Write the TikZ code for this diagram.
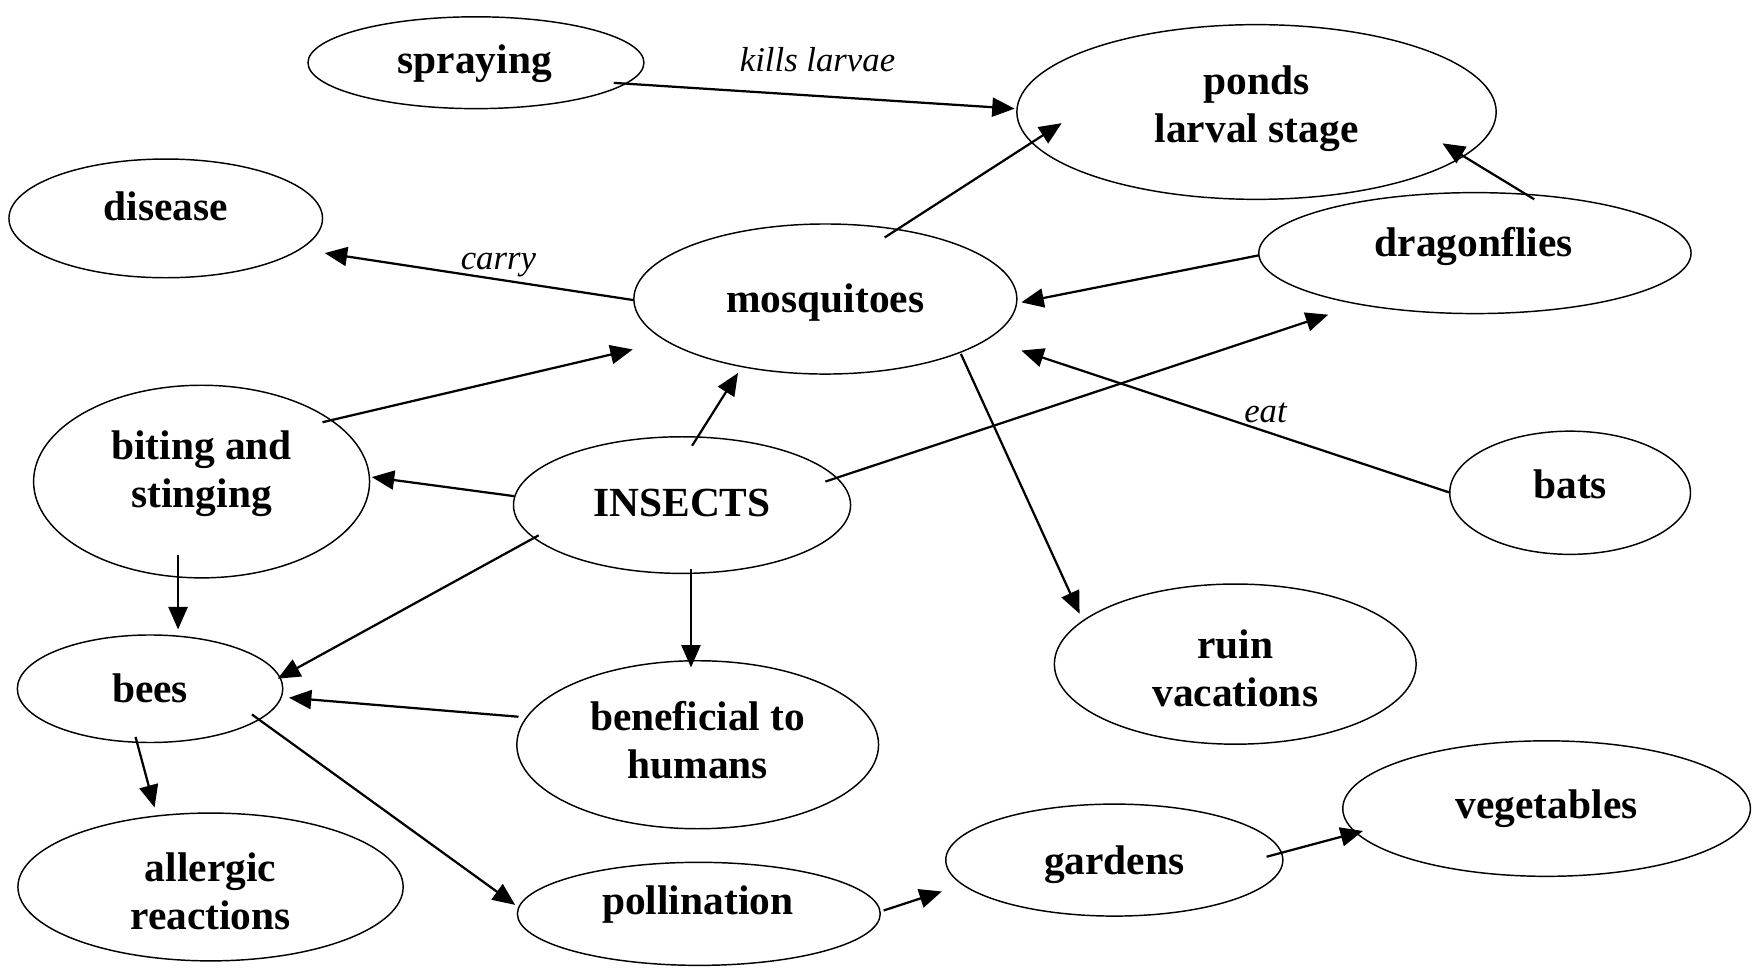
\documentclass[tikz,border=0pt]{standalone}
\usepackage{fontspec}
\setmainfont{Liberation Serif}
\usetikzlibrary{shapes.geometric,arrows.meta,calc}
\tikzset{
  oval/.style={ellipse, draw, line width=1.3pt, inner sep=0pt},
  txt/.style={font=\bfseries\fontsize{37}{43}\selectfont, align=center, anchor=base, inner sep=0pt},
  lbl/.style={font=\itshape\fontsize{31}{37}\selectfont, anchor=base, inner sep=0pt},
  arr/.style={line width=2pt, -{Triangle[length=20pt,width=17pt]}}
}
\begin{document}
\begin{tikzpicture}[x=1pt,y=-1pt]
\useasboundingbox (0,0) rectangle (1568,865);
% ellipses
\node[oval, minimum width=300pt, minimum height=82pt]  (spraying) at (425,56) {};
\node[oval, minimum width=428pt, minimum height=156pt] (ponds) at (1122,100) {};
\node[oval, minimum width=280pt, minimum height=106pt] (disease) at (148,195) {};
\node[oval, minimum width=386pt, minimum height=108pt] (dragonflies) at (1317,226) {};
\node[oval, minimum width=342pt, minimum height=134pt] (mosquitoes) at (737,267) {};
\node[oval, minimum width=300pt, minimum height=172pt] (biting) at (180,430) {};
\node[oval, minimum width=301pt, minimum height=122pt] (insects) at (609,451) {};
\node[oval, minimum width=215pt, minimum height=110pt] (bats) at (1402,440) {};
\node[oval, minimum width=323pt, minimum height=143pt] (ruin) at (1103,593) {};
\node[oval, minimum width=237pt, minimum height=96pt]  (bees) at (134,615) {};
\node[oval, minimum width=323pt, minimum height=150pt] (beneficial) at (623,665) {};
\node[oval, minimum width=344pt, minimum height=132pt] (allergic) at (188,792) {};
\node[oval, minimum width=324pt, minimum height=92pt]  (pollination) at (624,816) {};
\node[oval, minimum width=301pt, minimum height=100pt] (gardens) at (995,768) {};
\node[oval, minimum width=364pt, minimum height=121pt] (vegetables) at (1381,722) {};
% texts (multi-line: anchored at the baseline of the last line)
\node[txt] (spraying-t) at (424,66) {spraying};
\node[txt] (ponds-t) at (1122,127) {ponds\\larval stage};
\node[txt] (disease-t) at (148,197) {disease};
\node[txt] (dragonflies-t) at (1316,229) {dragonflies};
\node[txt] (mosquitoes-t) at (737,279) {mosquitoes};
\node[txt] (biting-t) at (180,453) {biting and\\stinging};
\node[txt] (insects-t) at (609,461) {INSECTS};
\node[txt] (bats-t) at (1402,445) {bats};
\node[txt] (ruin-t) at (1103,631) {ruin\\vacations};
\node[txt] (bees-t) at (134,627) {bees};
\node[txt] (beneficial-t) at (623,695) {beneficial to\\humans};
\node[txt] (allergic-t) at (188,830) {allergic\\reactions};
\node[txt] (pollination-t) at (623,817) {pollination};
\node[txt] (gardens-t) at (995,781) {gardens};
\node[txt] (vegetables-t) at (1381,731) {vegetables};
% labels
\node[lbl] (kills) at (730,64) {kills larvae};
\node[lbl] (carry) at (445,241) {carry};
\node[lbl] (eat) at (1130,377) {eat};
% connectors
\draw[arr] ($(spraying)+(123,18)$) -- ($(ponds)+(-216,-3)$);
\draw[arr] ($(mosquitoes)+(53,-55)$) -- ($(ponds)+(-174,10)$);
\draw[arr] ($(dragonflies)+(53,-48)$) -- ($(ponds)+(166,28)$);
\draw[arr] ($(dragonflies)+(-193,2)$) -- ($(mosquitoes)+(175,3)$);
\draw[arr] ($(mosquitoes)+(-171,1)$) -- ($(disease)+(142,31)$);
\draw[arr] ($(biting)+(108,-53)$) -- ($(mosquitoes)+(-172,45)$);
\draw[arr] ($(insects)+(9,-53)$) -- ($(mosquitoes)+(-78,66)$);
\draw[arr] ($(insects)+(128,-21)$) -- ($(dragonflies)+(-131,55)$);
\draw[arr] ($(bats)+(-107,0)$) -- ($(mosquitoes)+(175,46)$);
\draw[arr] ($(mosquitoes)+(121,49)$) -- ($(ruin)+(-139,-45)$);
\draw[arr] ($(insects)+(-150,-8)$) -- ($(biting)+(152,-4)$);
\draw[arr] ($(insects)+(-128,27)$) -- ($(bees)+(114,-9)$);
\draw[arr] ($(insects)+(8,57)$) -- ($(beneficial)+(-6,-69)$);
\draw[arr] ($(biting)+(-21,66)$) -- ($(bees)+(25,-53)$);
\draw[arr] ($(beneficial)+(-160,-25)$) -- ($(bees)+(124,8)$);
\draw[arr] ($(bees)+(-13,43)$) -- ($(allergic)+(-50,-71)$);
\draw[arr] ($(bees)+(91,23)$) -- ($(pollination)+(-164,-8)$);
\draw[arr] ($(pollination)+(165,-3)$) -- ($(gardens)+(-154,28)$);
\draw[arr] ($(gardens)+(136,-3)$) -- ($(vegetables)+(-164,20)$);
\end{tikzpicture}
\end{document}
